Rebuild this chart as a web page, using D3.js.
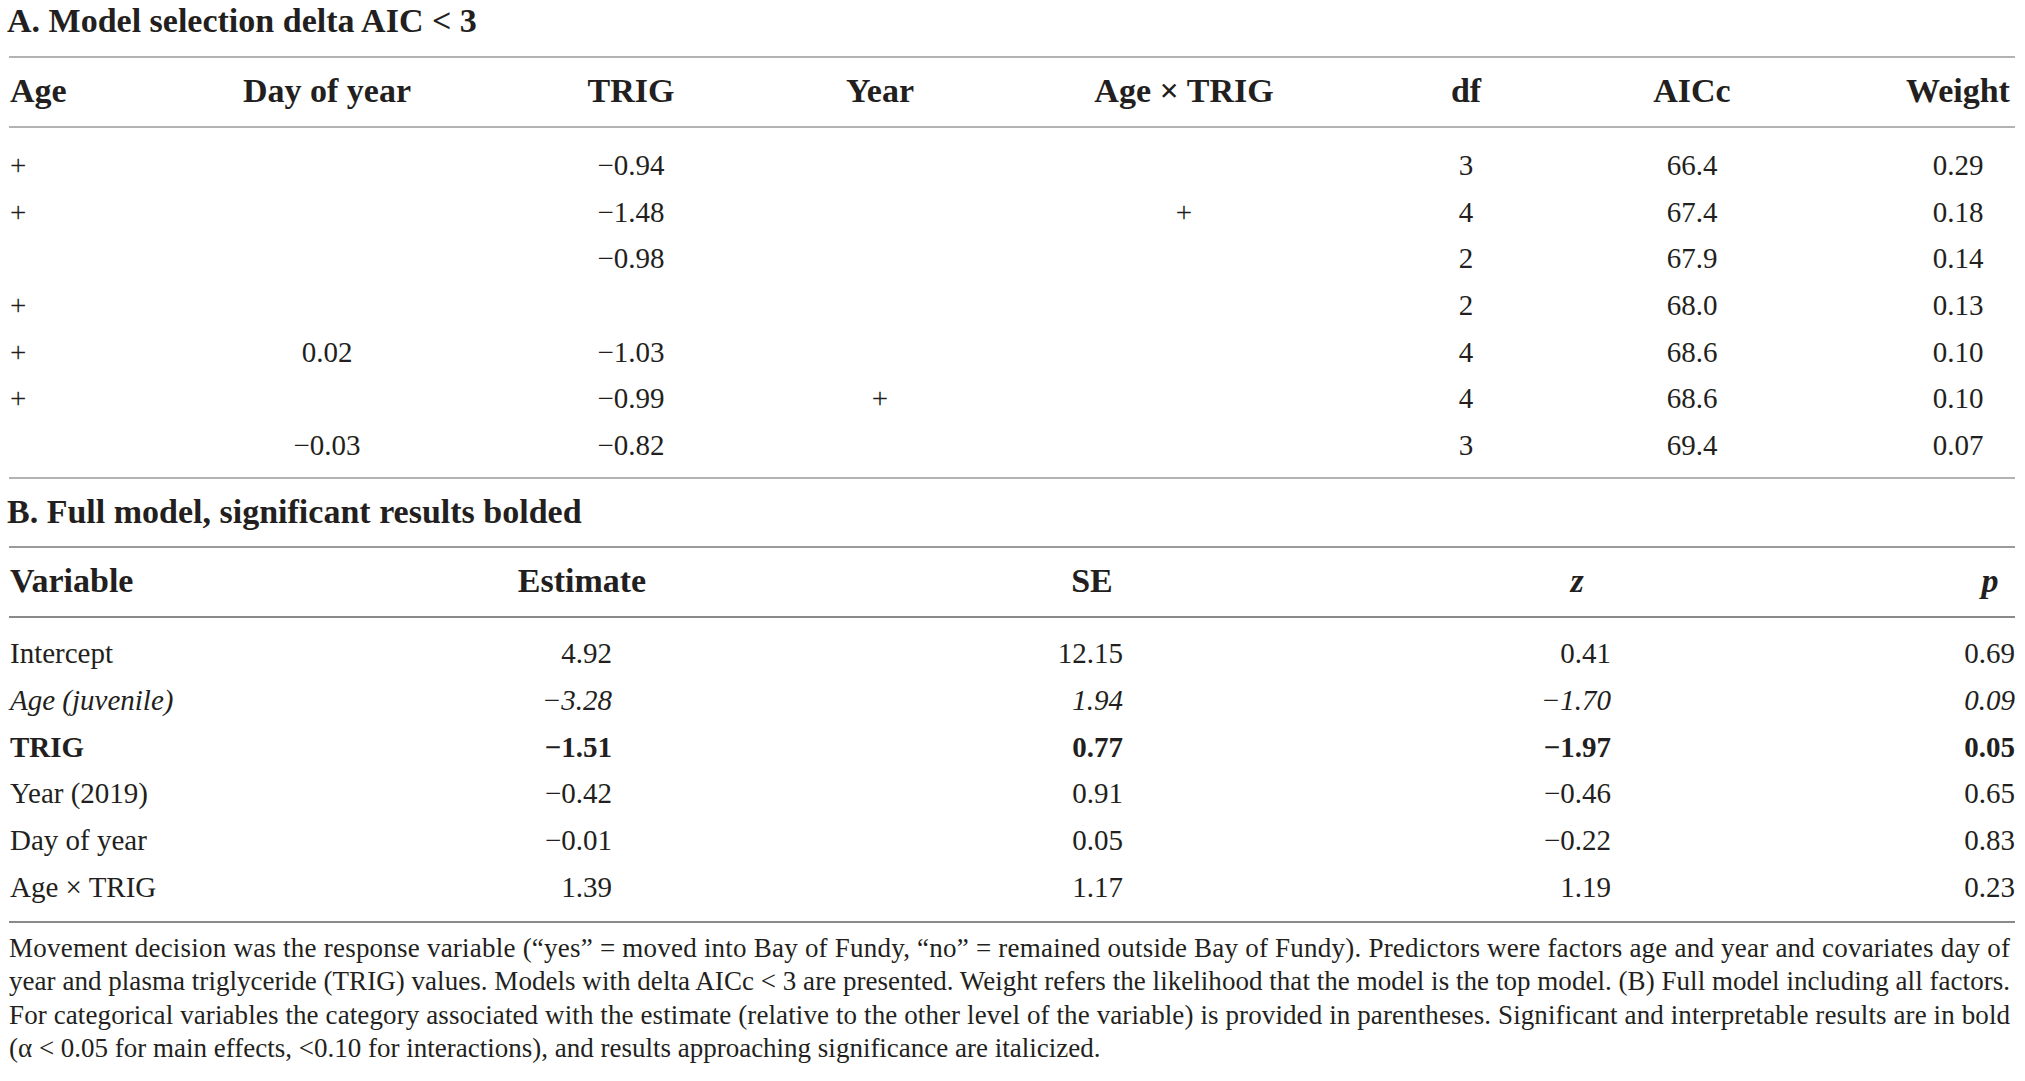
<!DOCTYPE html>
<html lang="en">
<head>
    <meta charset="UTF-8">
    <title>Model selection table</title>
    <style>
        body { margin: 0; background: #fff; }
        svg text { font-family: "Liberation Serif", "DejaVu Serif", serif; fill: #231f20; }
    </style>
    <script src="https://cdn.jsdelivr.net/npm/d3@7"></script>
</head>
<body>
    <svg id="table" width="2025" height="1081"></svg>

    <script>
        // Part A: model selection, delta AIC < 3
        const titleA = "A. Model selection delta AIC < 3";
        const headersA = ["Age", "Day of year", "TRIG", "Year", "Age × TRIG", "df", "AICc", "Weight"];
        const ageTerm = ["+", "+", "", "+", "+", "+", ""];
        const dayOfYear = [null, null, null, null, 0.02, null, -0.03];
        const trigCoef = [-0.94, -1.48, -0.98, null, -1.03, -0.99, -0.82];
        const yearTerm = ["", "", "", "", "", "+", ""];
        const ageTrigTerm = ["", "+", "", "", "", "", ""];
        const dfVals = [3, 4, 2, 2, 4, 4, 3];
        const aiccVals = [66.4, 67.4, 67.9, 68.0, 68.6, 68.6, 69.4];
        const weightVals = [0.29, 0.18, 0.14, 0.13, 0.10, 0.10, 0.07];

        // Part B: full model
        const titleB = "B. Full model, significant results bolded";
        const headersB = ["Variable", "Estimate", "SE", "z", "p"];
        const variables = ["Intercept", "Age (juvenile)", "TRIG", "Year (2019)", "Day of year", "Age × TRIG"];
        const estimates = [4.92, -3.28, -1.51, -0.42, -0.01, 1.39];
        const seVals = [12.15, 1.94, 0.77, 0.91, 0.05, 1.17];
        const zVals = [0.41, -1.70, -1.97, -0.46, -0.22, 1.19];
        const pVals = [0.69, 0.09, 0.05, 0.65, 0.83, 0.23];
        const rowStyle = ["normal", "italic", "bold", "normal", "normal", "normal"];

        const footnote = [
            "Movement decision was the response variable (“yes” = moved into Bay of Fundy, “no” = remained outside Bay of Fundy). Predictors were factors age and year and covariates day of",
            "year and plasma triglyceride (TRIG) values. Models with delta AICc < 3 are presented. Weight refers the likelihood that the model is the top model. (B) Full model including all factors.",
            "For categorical variables the category associated with the estimate (relative to the other level of the variable) is provided in parentheses. Significant and interpretable results are in bold",
            "(α < 0.05 for main effects, <0.10 for interactions), and results approaching significance are italicized."
        ];

        const svg = d3.select("#table");
        const left = 9, right = 2015;
        const f2 = d3.format(".2f"), f1 = d3.format(".1f");
        const fmt2 = v => v == null ? "" : f2(v);

        function rule(y, color) {
            svg.append("line")
                .attr("x1", left).attr("x2", right)
                .attr("y1", y).attr("y2", y)
                .attr("stroke", color).attr("stroke-width", 2);
        }

        function title(text, y) {
            svg.append("text")
                .attr("x", left - 2).attr("y", y)
                .attr("font-size", 34).attr("font-weight", "bold")
                .text(text);
        }

        // ---- Table A ----
        title(titleA, 32);
        rule(57, "#b3b3b3");
        rule(127, "#b3b3b3");
        rule(478, "#b3b3b3");

        const colA = d3.scaleOrdinal()
            .domain(headersA)
            .range([left + 1, 327, 631, 880, 1184, 1466, 1692, 1958]);
        const anchorA = h => h === "Age" ? "start" : "middle";

        svg.append("g").selectAll("text")
            .data(headersA)
            .join("text")
            .attr("x", d => colA(d))
            .attr("y", 102)
            .attr("text-anchor", anchorA)
            .attr("font-size", 34).attr("font-weight", "bold")
            .text(d => d);

        const yA = d3.scalePoint()
            .domain(d3.range(dfVals.length))
            .range([175, 455]);

        const cellsA = dfVals.flatMap((_, i) => [
            [headersA[0], ageTerm[i]],
            [headersA[1], fmt2(dayOfYear[i])],
            [headersA[2], fmt2(trigCoef[i])],
            [headersA[3], yearTerm[i]],
            [headersA[4], ageTrigTerm[i]],
            [headersA[5], String(dfVals[i])],
            [headersA[6], f1(aiccVals[i])],
            [headersA[7], f2(weightVals[i])]
        ].map(([col, txt]) => ({ row: i, col, txt })));

        svg.append("g").selectAll("text")
            .data(cellsA.filter(d => d.txt !== ""))
            .join("text")
            .attr("x", d => colA(d.col))
            .attr("y", d => yA(d.row))
            .attr("text-anchor", d => anchorA(d.col))
            .attr("font-size", 29)
            .text(d => d.txt);

        // ---- Table B ----
        title(titleB, 523);
        rule(547, "#9a9a9a");
        rule(617, "#8a8a8a");
        rule(922, "#8a8a8a");

        const headPosB = d3.scaleOrdinal().domain(headersB).range([left + 1, 582, 1092, 1577, 1990]);
        svg.append("g").selectAll("text")
            .data(headersB)
            .join("text")
            .attr("x", d => headPosB(d))
            .attr("y", 592)
            .attr("text-anchor", d => d === "Variable" ? "start" : "middle")
            .attr("font-size", 34).attr("font-weight", "bold")
            .attr("font-style", d => (d === "z" || d === "p") ? "italic" : "normal")
            .text(d => d);

        const yB = d3.scalePoint()
            .domain(d3.range(variables.length))
            .range([663, 897]);
        const valPosB = d3.scaleOrdinal().domain(["est", "se", "z", "p"]).range([612, 1123, 1611, 2015]);

        const cellsB = variables.flatMap((v, i) => [
            { row: i, col: "var", txt: v },
            { row: i, col: "est", txt: f2(estimates[i]) },
            { row: i, col: "se", txt: f2(seVals[i]) },
            { row: i, col: "z", txt: f2(zVals[i]) },
            { row: i, col: "p", txt: f2(pVals[i]) }
        ]);

        svg.append("g").selectAll("text")
            .data(cellsB)
            .join("text")
            .attr("x", d => d.col === "var" ? left + 1 : valPosB(d.col))
            .attr("y", d => yB(d.row))
            .attr("text-anchor", d => d.col === "var" ? "start" : "end")
            .attr("font-size", 29)
            .attr("font-weight", d => rowStyle[d.row] === "bold" ? "bold" : "normal")
            .attr("font-style", d => rowStyle[d.row] === "italic" ? "italic" : "normal")
            .text(d => d.txt);

        // ---- Footnote (justified except last line) ----
        svg.append("g").selectAll("text")
            .data(footnote)
            .join("text")
            .attr("x", left)
            .attr("y", (d, i) => 957 + i * 33.3)
            .attr("font-size", 27)
            .each(function (d, i) {
                if (i < footnote.length - 1) {
                    d3.select(this)
                        .attr("textLength", 2010 - left)
                        .attr("lengthAdjust", "spacing");
                }
            })
            .text(d => d);
    </script>
</body>
</html>
